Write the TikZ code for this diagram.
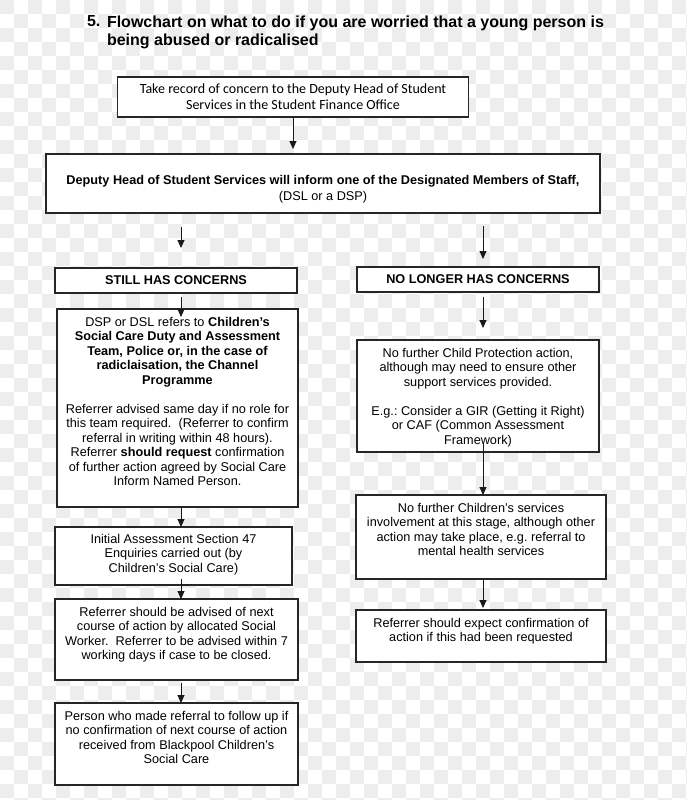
\documentclass[tikz,border=0pt]{standalone}
\usepackage{fontspec}
\setmainfont{Liberation Sans}
\newfontfamily\recordfont{Carlito}
\usetikzlibrary{arrows.meta}
\newcommand{\bodyfont}{\fontsize{12.7}{14.5}\selectfont\frenchspacing}
\newcommand{\boxtext}[4]{\parbox[t][#2][t]{#1}{\centering\rule{0pt}{#3}#4}}
\definecolor{checkgray}{gray}{0.93}

\begin{document}
\begin{tikzpicture}[x=1pt,y=-1pt,inner sep=0pt,outer sep=0pt,>={Triangle[length=8pt,width=7pt]},
flowbox/.style={draw=black!85,line width=1.3pt,fill=white,anchor=north west,font=\bodyfont},
headbox/.style={flowbox,minimum width=242pt,minimum height=25pt,font=\bodyfont\bfseries},
link/.style={->,line width=0.9pt,black!90}]
\useasboundingbox (0,0) rectangle (687,800);
% checkered backdrop
\fill[white] (0,0) rectangle (687,800);
\foreach \row in {0,...,57} {
  \pgfmathtruncatemacro\shift{mod(\row,2)}
  \foreach \col in {0,...,24}
    \fill[checkgray] ({(2*\col+\shift)*14},{\row*14}) rectangle ++(14,14);
}
% title
\node[anchor=base west,font=\fontsize{16}{18}\selectfont\bfseries] (num) at (87,27) {5.};
\node[anchor=north west,align=left,font=\fontsize{16}{18}\selectfont\bfseries] (title) at (107,15.5)
  {Flowchart on what to do if you are worried that a young person is\\being abused or radicalised};
% top of the chart
\node[flowbox] (record) at (117.5,77) {\recordfont\fontsize{14}{16}\selectfont
  \boxtext{351pt}{40pt}{16.5pt}{Take record of concern to the Deputy Head of Student\\Services in the Student Finance Office}};
\node[flowbox] (inform) at (46,154) {\boxtext{554pt}{59pt}{30pt}{\textbf{Deputy Head of Student Services will inform one of the Designated Members of Staff,}\\[1.5pt](DSL or a DSP)}};
% left column
\node[headbox] (still) at (55,268) {STILL HAS CONCERNS};
\node[flowbox] (refer) at (57,309) {\boxtext{241pt}{198pt}{17pt}{DSP or DSL refers to \textbf{Children’s}\\\textbf{Social Care Duty and Assessment}\\\textbf{Team, Police or, in the case of}\\\textbf{radiclaisation, the Channel}\\\textbf{Programme}\\[14.5pt]Referrer advised same day if no role for\\this team required.\ \ (Referrer to confirm\\referral in writing within 48 hours).\\Referrer \textbf{should request} confirmation\\of further action agreed by Social Care\\Inform Named Person.}};
\node[flowbox] (assess) at (55,527) {\boxtext{237pt}{58pt}{16pt}{Initial Assessment Section 47\\Enquiries carried out (by\\Children’s Social Care)}};
\node[flowbox] (advise) at (55,599) {\boxtext{243pt}{81pt}{17pt}{Referrer should be advised of next\\course of action by allocated Social\\Worker.\ \ Referrer to be advised within 7\\working days if case to be closed.}};
\node[flowbox] (follow) at (55,703) {\boxtext{243pt}{82pt}{17pt}{Person who made referral to follow up if\\no confirmation of next course of action\\received from Blackpool Children’s\\Social Care}};
% right column
\node[headbox] (nolonger) at (357,267) {NO LONGER HAS CONCERNS};
\node[flowbox] (noaction) at (357,340) {\boxtext{242pt}{112pt}{17pt}{No further Child Protection action,\\although may need to ensure other\\support services provided.\\[14.5pt]E.g.: Consider a GIR (Getting it Right)\\or CAF (Common Assessment\\Framework)}};
\node[flowbox] (noservices) at (356,495) {\boxtext{250pt}{84pt}{17pt}{No further Children’s services\\involvement at this stage, although other\\action may take place, e.g. referral to\\mental health services}};
\node[flowbox] (expect) at (356,610) {\boxtext{250pt}{52pt}{17pt}{Referrer should expect confirmation of\\action if this had been requested}};
% arrows
\coordinate (lcol) at (181,0);
\coordinate (rcol) at (483,0);
\draw[link] (record.south) -- ([yshift=5pt]inform.north -| record.south);
\draw[link] ([yshift=-14pt]inform.south -| lcol) -- ([yshift=20pt]still.north -| lcol);
\draw[link] ([yshift=-4pt]still.south -| lcol) -- ([yshift=-8pt]refer.north -| lcol);
\draw[link] (refer.south -| lcol) -- (assess.north -| lcol);
\draw[link] ([yshift=6pt]assess.south -| lcol) -- (advise.north -| lcol);
\draw[link] ([yshift=-3pt]advise.south -| lcol) -- (follow.north -| lcol);
\draw[link] ([yshift=-13pt]inform.south -| rcol) -- ([yshift=8pt]nolonger.north -| rcol);
\draw[link] ([yshift=-5pt]nolonger.south -| rcol) -- ([yshift=12pt]noaction.north -| rcol);
\draw[link] ([yshift=8pt]noaction.south -| rcol) -- (noservices.north -| rcol);
\draw[link] (noservices.south -| rcol) -- ([yshift=2pt]expect.north -| rcol);
\end{tikzpicture}
\end{document}
